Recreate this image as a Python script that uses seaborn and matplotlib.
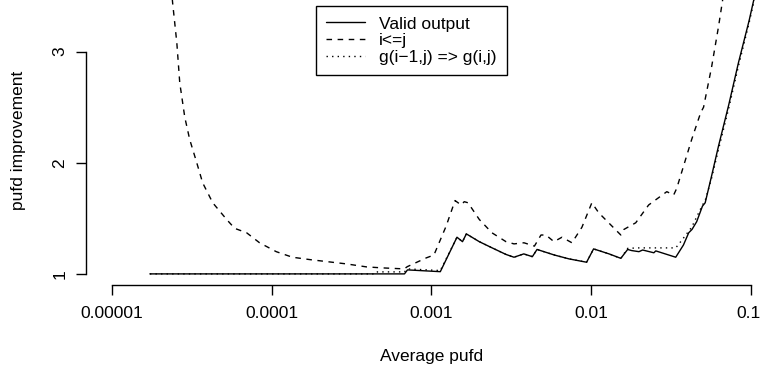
import numpy as np
import pandas as pd
import matplotlib
matplotlib.use("Agg")
import matplotlib.pyplot as plt
import matplotlib.transforms as mtransforms
import seaborn as sns

# values
valid_x = [1.73e-5, 6.8e-4, 7.1e-4, 1.14e-3, 1.45e-3, 1.57e-3, 1.66e-3, 2.0e-3, 2.4e-3,
           2.94e-3, 3.3e-3, 3.8e-3, 4.3e-3, 4.6e-3, 5.9e-3, 7.3e-3, 9.4e-3, 1.04e-2,
           1.3e-2, 1.54e-2, 1.70e-2, 1.80e-2, 2.0e-2, 2.11e-2, 2.48e-2, 2.55e-2, 3.4e-2,
           3.8e-2, 4.1e-2, 4.3e-2, 4.6e-2, 5.0e-2, 5.2e-2, 5.7e-2, 6.3e-2, 7.3e-2,
           8.4e-2, 9.8e-2, 0.112]
valid_y = [1.0, 1.0, 1.036, 1.02, 1.33, 1.29, 1.36, 1.29, 1.235,
           1.175, 1.15, 1.18, 1.155, 1.22, 1.17, 1.135, 1.105, 1.225,
           1.18, 1.14, 1.22, 1.21, 1.20, 1.215, 1.19, 1.207, 1.15,
           1.26, 1.37, 1.40, 1.47, 1.61, 1.64, 1.88, 2.15, 2.52,
           2.90, 3.28, 3.65]

ilej_x = [2.3e-5, 2.40e-5, 2.55e-5, 2.66e-5, 2.86e-5, 3.07e-5, 3.40e-5, 3.70e-5, 4.28e-5,
          5.23e-5, 5.87e-5, 6.98e-5, 8.41e-5, 1.07e-4, 1.35e-4, 1.75e-4, 2.94e-4, 3.93e-4,
          4.94e-4, 6.78e-4, 7.08e-4, 9.31e-4, 1.04e-3, 1.24e-3, 1.41e-3, 1.54e-3, 1.61e-3,
          1.70e-3, 2.0e-3, 2.4e-3, 2.94e-3, 3.3e-3, 3.81e-3, 4.43e-3, 4.87e-3, 5.23e-3,
          5.87e-3, 6.59e-3, 7.61e-3, 8.79e-3, 1.014e-2, 1.12e-2, 1.54e-2, 1.61e-2, 1.91e-2,
          2.30e-2, 2.99e-2, 3.30e-2, 3.45e-2, 4.28e-2, 4.87e-2, 5.08e-2, 5.70e-2, 6.31e-2,
          7.0e-2]
ilej_y = [3.75, 3.44, 3.08, 2.72, 2.41, 2.21, 2.00, 1.82, 1.64,
          1.49, 1.41, 1.37, 1.28, 1.20, 1.15, 1.128, 1.09, 1.063,
          1.054, 1.045, 1.065, 1.144, 1.17, 1.43, 1.66, 1.62, 1.65,
          1.64, 1.49, 1.37, 1.29, 1.27, 1.28, 1.25, 1.35, 1.35,
          1.29, 1.33, 1.28, 1.42, 1.64, 1.55, 1.35, 1.40, 1.46,
          1.62, 1.74, 1.71, 1.77, 2.21, 2.45, 2.50, 2.86, 3.23,
          3.65]

g_x = [1.73e-5, 4.5e-4, 4.6e-4, 6.8e-4, 7.1e-4, 1.14e-3, 1.45e-3, 1.57e-3, 1.66e-3,
       2.0e-3, 2.4e-3, 2.94e-3, 3.3e-3, 3.8e-3, 4.3e-3, 4.6e-3, 5.9e-3, 7.3e-3,
       9.4e-3, 1.04e-2, 1.3e-2, 1.54e-2, 1.70e-2, 2.0e-2, 3.4e-2, 3.7e-2, 4.28e-2,
       5.0e-2, 5.2e-2, 5.7e-2, 6.3e-2, 7.3e-2, 8.4e-2, 9.8e-2, 0.112]
g_y = [1.0, 1.0, 1.018, 1.018, 1.045, 1.03, 1.33, 1.29, 1.36,
       1.29, 1.235, 1.175, 1.15, 1.18, 1.155, 1.22, 1.17, 1.135,
       1.105, 1.225, 1.18, 1.14, 1.23, 1.234, 1.234, 1.30, 1.42,
       1.62, 1.66, 1.86, 2.12, 2.49, 2.87, 3.26, 3.63]

series_names = ["Valid output", "i<=j", "g(i\u22121,j) => g(i,j)"]
x_ticks = [1e-5, 1e-4, 1e-3, 1e-2, 1e-1]
x_ticklabels = ["0.00001", "0.0001", "0.001", "0.01", "0.1"]
y_ticks = [1, 2, 3]

df = pd.concat([
    pd.DataFrame({"pufd": valid_x, "improvement": valid_y, "series": series_names[0]}),
    pd.DataFrame({"pufd": ilej_x, "improvement": ilej_y, "series": series_names[1]}),
    pd.DataFrame({"pufd": g_x, "improvement": g_y, "series": series_names[2]}),
])

sns.set_theme(style="white", rc={"axes.edgecolor": "black", "xtick.color": "black",
                                 "ytick.color": "black", "text.color": "black",
                                 "axes.labelcolor": "black"})
plt.rcParams["font.family"] = ["Liberation Sans", "DejaVu Sans"]

FS = 12.5

fig = plt.figure(figsize=(7.61, 3.71), dpi=100)
# R-style plot region: xlim 1e-5..0.1 padded 4 %, overflowing the right/top edge
ax = fig.add_axes([0.1135, 0.2318, 0.9063, 0.8086])

sns.lineplot(data=df, x="pufd", y="improvement", style="series", color="black",
             dashes={series_names[0]: "", series_names[1]: (4, 4), series_names[2]: (1, 3)},
             estimator=None, sort=False, linewidth=1.0, ax=ax)

ax.set_xscale("log")
ax.set_xlim(10 ** -5.16, 10 ** -0.84)
ax.set_ylim(0.9, 3.6)

ax.set_xticks(x_ticks)
ax.set_xticklabels(x_ticklabels)
ax.xaxis.set_minor_locator(matplotlib.ticker.NullLocator())
ax.set_yticks(y_ticks)
ax.set_yticklabels([str(v) for v in y_ticks])

for s in ["top", "right"]:
    ax.spines[s].set_visible(False)
ax.spines["left"].set_bounds(1, 3)
ax.spines["bottom"].set_bounds(1e-5, 0.1)
ax.spines["left"].set_linewidth(1.0)
ax.spines["bottom"].set_linewidth(1.0)

ax.tick_params(axis="both", which="major", direction="out", length=7.2, width=1.0,
               labelsize=FS, bottom=True, left=True)
ax.tick_params(axis="x", pad=8.0)
ax.tick_params(axis="y", pad=6.5, labelrotation=90)
for lab in ax.get_yticklabels():
    lab.set_va("center")

# keep the "0.1" label inside the canvas
last = ax.get_xticklabels()[-1]
last.set_transform(last.get_transform()
                   + mtransforms.ScaledTranslation(-2.5 / 100, 0, fig.dpi_scale_trans))

ax.set_xlabel("Average pufd", fontsize=FS)
ax.set_ylabel("pufd improvement", fontsize=FS)
ax.xaxis.set_label_coords(0.5, -0.24)
ax.xaxis.label.set_va("center")
ax.yaxis.set_label_coords(-0.099, 0.483)
ax.yaxis.label.set_va("center")

handles, labels = ax.get_legend_handles_labels()
leg = ax.legend(handles, labels, loc="upper left", bbox_to_anchor=(316 / 761, 1 - 6 / 371),
                bbox_transform=fig.transFigure, borderaxespad=0, fontsize=FS,
                frameon=True, fancybox=False, framealpha=1, edgecolor="black",
                handlelength=2.2, handletextpad=0.85, borderpad=0.6, labelspacing=0.08)
leg.get_frame().set_linewidth(1.0)

fig.savefig("out.png", dpi=100)
